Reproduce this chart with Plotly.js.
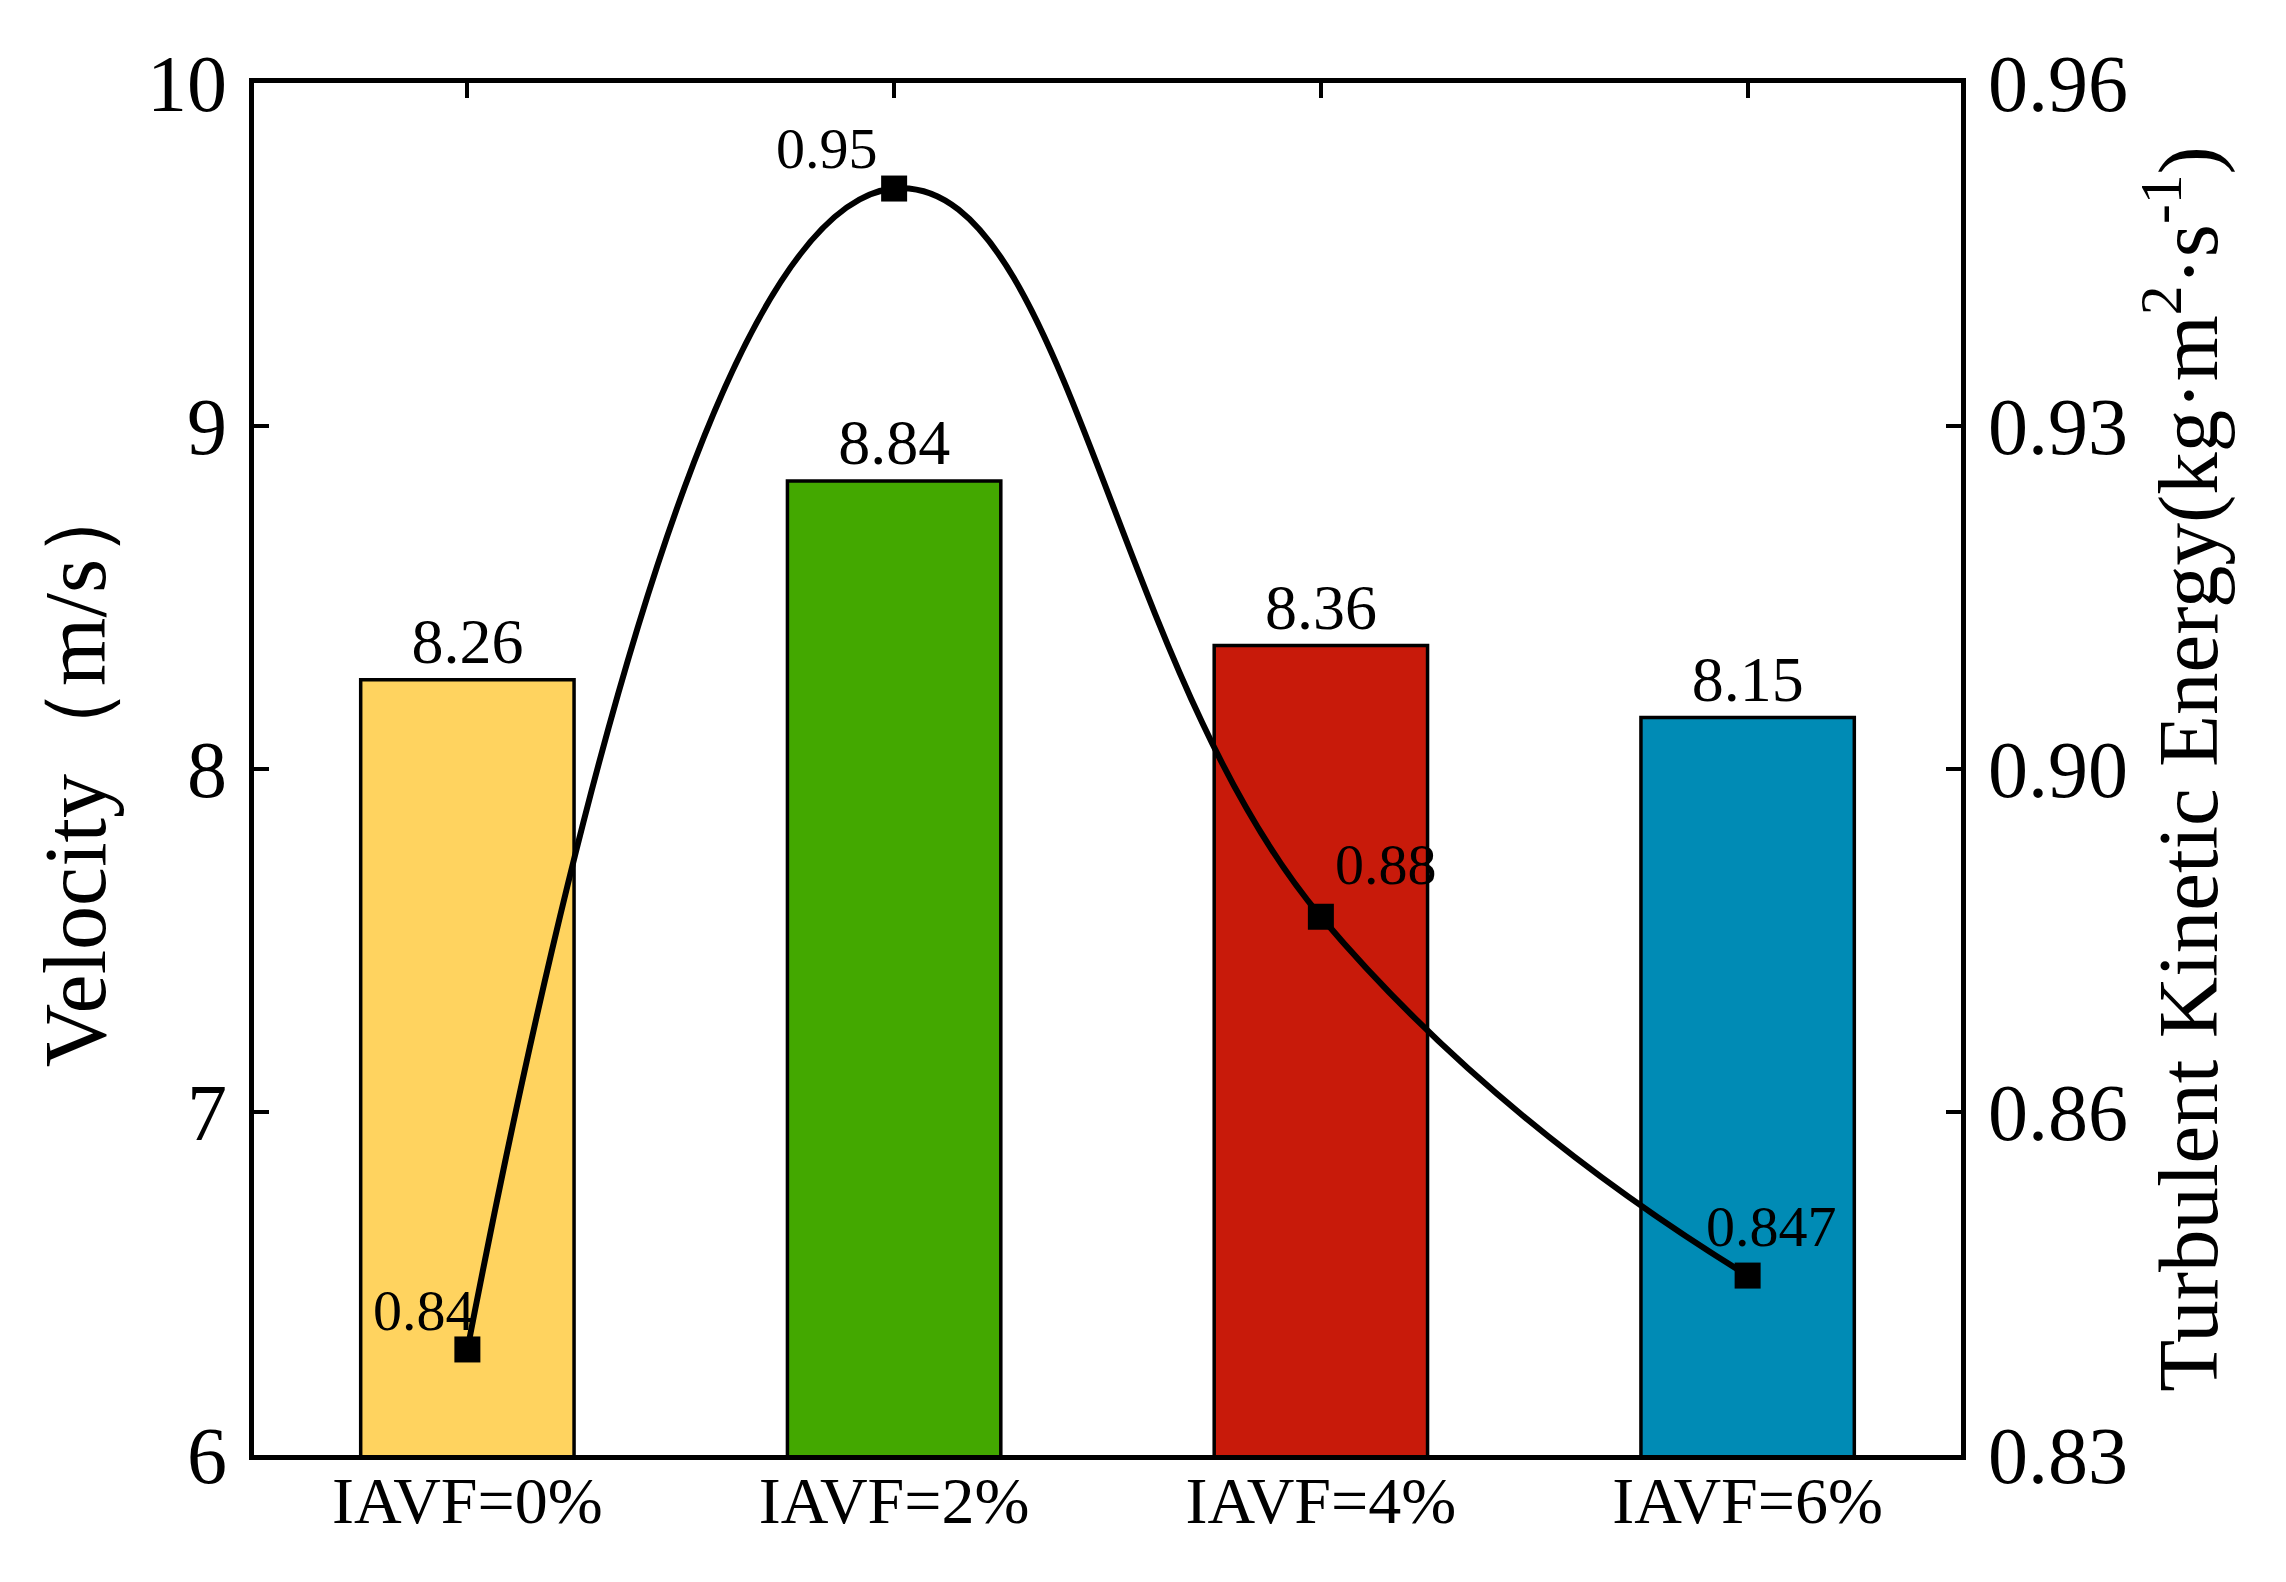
<!DOCTYPE html>
<html>
<head>
<meta charset="utf-8">
<script src="https://cdn.plot.ly/plotly-3.0.1.min.js"></script>
<style>
  html, body { margin: 0; padding: 0; background: #fff; }
  #chart { width: 2286px; height: 1582px; }
</style>
</head>
<body>
<div id="chart"></div>
<script>
// data
var categories = ['IAVF=0%', 'IAVF=2%', 'IAVF=4%', 'IAVF=6%'];
var velocity = [8.26, 8.84, 8.36, 8.15];
var tke = [0.84, 0.95, 0.881, 0.847];
var tkeLabels = ['0.84', '0.95', '0.88', '0.847'];
var barColors = ['#FFD35F', '#43A800', '#C81A0A', '#008BB5'];

var leftTicks = [6, 7, 8, 9, 10];
var rightTickVals = [0.83, 0.8625, 0.895, 0.9275, 0.96];
var rightTickText = ['0.83', '0.86', '0.90', '0.93', '0.96'];

var serif = 'Liberation Serif';

// where each point label sits relative to its marker
var labelPlace = [
  {xanchor: 'right', xshift: 10, yshift: 4},
  {xanchor: 'right', xshift: -14, yshift: 6},
  {xanchor: 'left', xshift: 12, yshift: 18},
  {xanchor: 'center', xshift: 24, yshift: 15}
];

var bars = {
  x: categories,
  y: velocity,
  type: 'bar',
  marker: {color: barColors, line: {color: '#000', width: 3.5}},
  text: velocity.map(function (v) { return v.toFixed(2); }),
  textposition: 'outside',
  textfont: {family: serif, size: 64, color: '#000'},
  cliponaxis: false,
  hoverinfo: 'skip'
};

var line = {
  x: categories,
  y: tke,
  yaxis: 'y2',
  type: 'scatter',
  mode: 'lines+markers',
  line: {color: '#000', width: 6, shape: 'spline', smoothing: 1.3},
  marker: {symbol: 'square', size: 26, color: '#000'},
  cliponaxis: false,
  hoverinfo: 'skip'
};

var annotations = tke.map(function (v, i) {
  return {
    x: categories[i], y: v, xref: 'x', yref: 'y2',
    text: tkeLabels[i], showarrow: false,
    xanchor: labelPlace[i].xanchor, yanchor: 'bottom',
    xshift: labelPlace[i].xshift, yshift: labelPlace[i].yshift,
    font: {family: serif, size: 58, color: '#000'}
  };
});

var layout = {
  width: 2286,
  height: 1582,
  margin: {l: 254, r: 325, t: 83, b: 127},
  paper_bgcolor: '#fff',
  plot_bgcolor: '#fff',
  showlegend: false,
  bargap: 0.5,
  annotations: annotations,
  xaxis: {
    type: 'category',
    range: [-0.5, 3.5],
    showline: true, linecolor: '#000', linewidth: 5,
    mirror: 'ticks',
    ticks: 'inside', ticklen: 15, tickwidth: 4, tickcolor: '#000',
    layer: 'below traces',
    showgrid: false, zeroline: false,
    tickfont: {family: serif, size: 66, color: '#000'},
    ticklabelstandoff: -16
  },
  yaxis: {
    range: [6, 10],
    tickvals: leftTicks,
    showline: true, linecolor: '#000', linewidth: 5,
    ticks: 'inside', ticklen: 15, tickwidth: 4, tickcolor: '#000',
    showgrid: false, zeroline: false,
    tickfont: {family: serif, size: 80, color: '#000'},
    ticklabelstandoff: 6,
    title: {text: 'Velocity（m/s）', font: {family: serif, size: 88, color: '#000'}, standoff: 14}
  },
  yaxis2: {
    overlaying: 'y',
    side: 'right',
    range: [0.83, 0.96],
    tickvals: rightTickVals,
    ticktext: rightTickText,
    showline: true, linecolor: '#000', linewidth: 5,
    ticks: 'inside', ticklen: 15, tickwidth: 4, tickcolor: '#000',
    showgrid: false, zeroline: false,
    tickfont: {family: serif, size: 80, color: '#000'},
    ticklabelstandoff: 6,
    title: {
      text: 'Turbulent Kinetic Energy(kg·m<sup>2</sup>·s<sup>-1</sup>)',
      font: {family: serif, size: 85, color: '#000'},
      standoff: 30
    }
  }
};

Plotly.newPlot('chart', [bars, line], layout, {displayModeBar: false, staticPlot: true});
</script>
</body>
</html>
